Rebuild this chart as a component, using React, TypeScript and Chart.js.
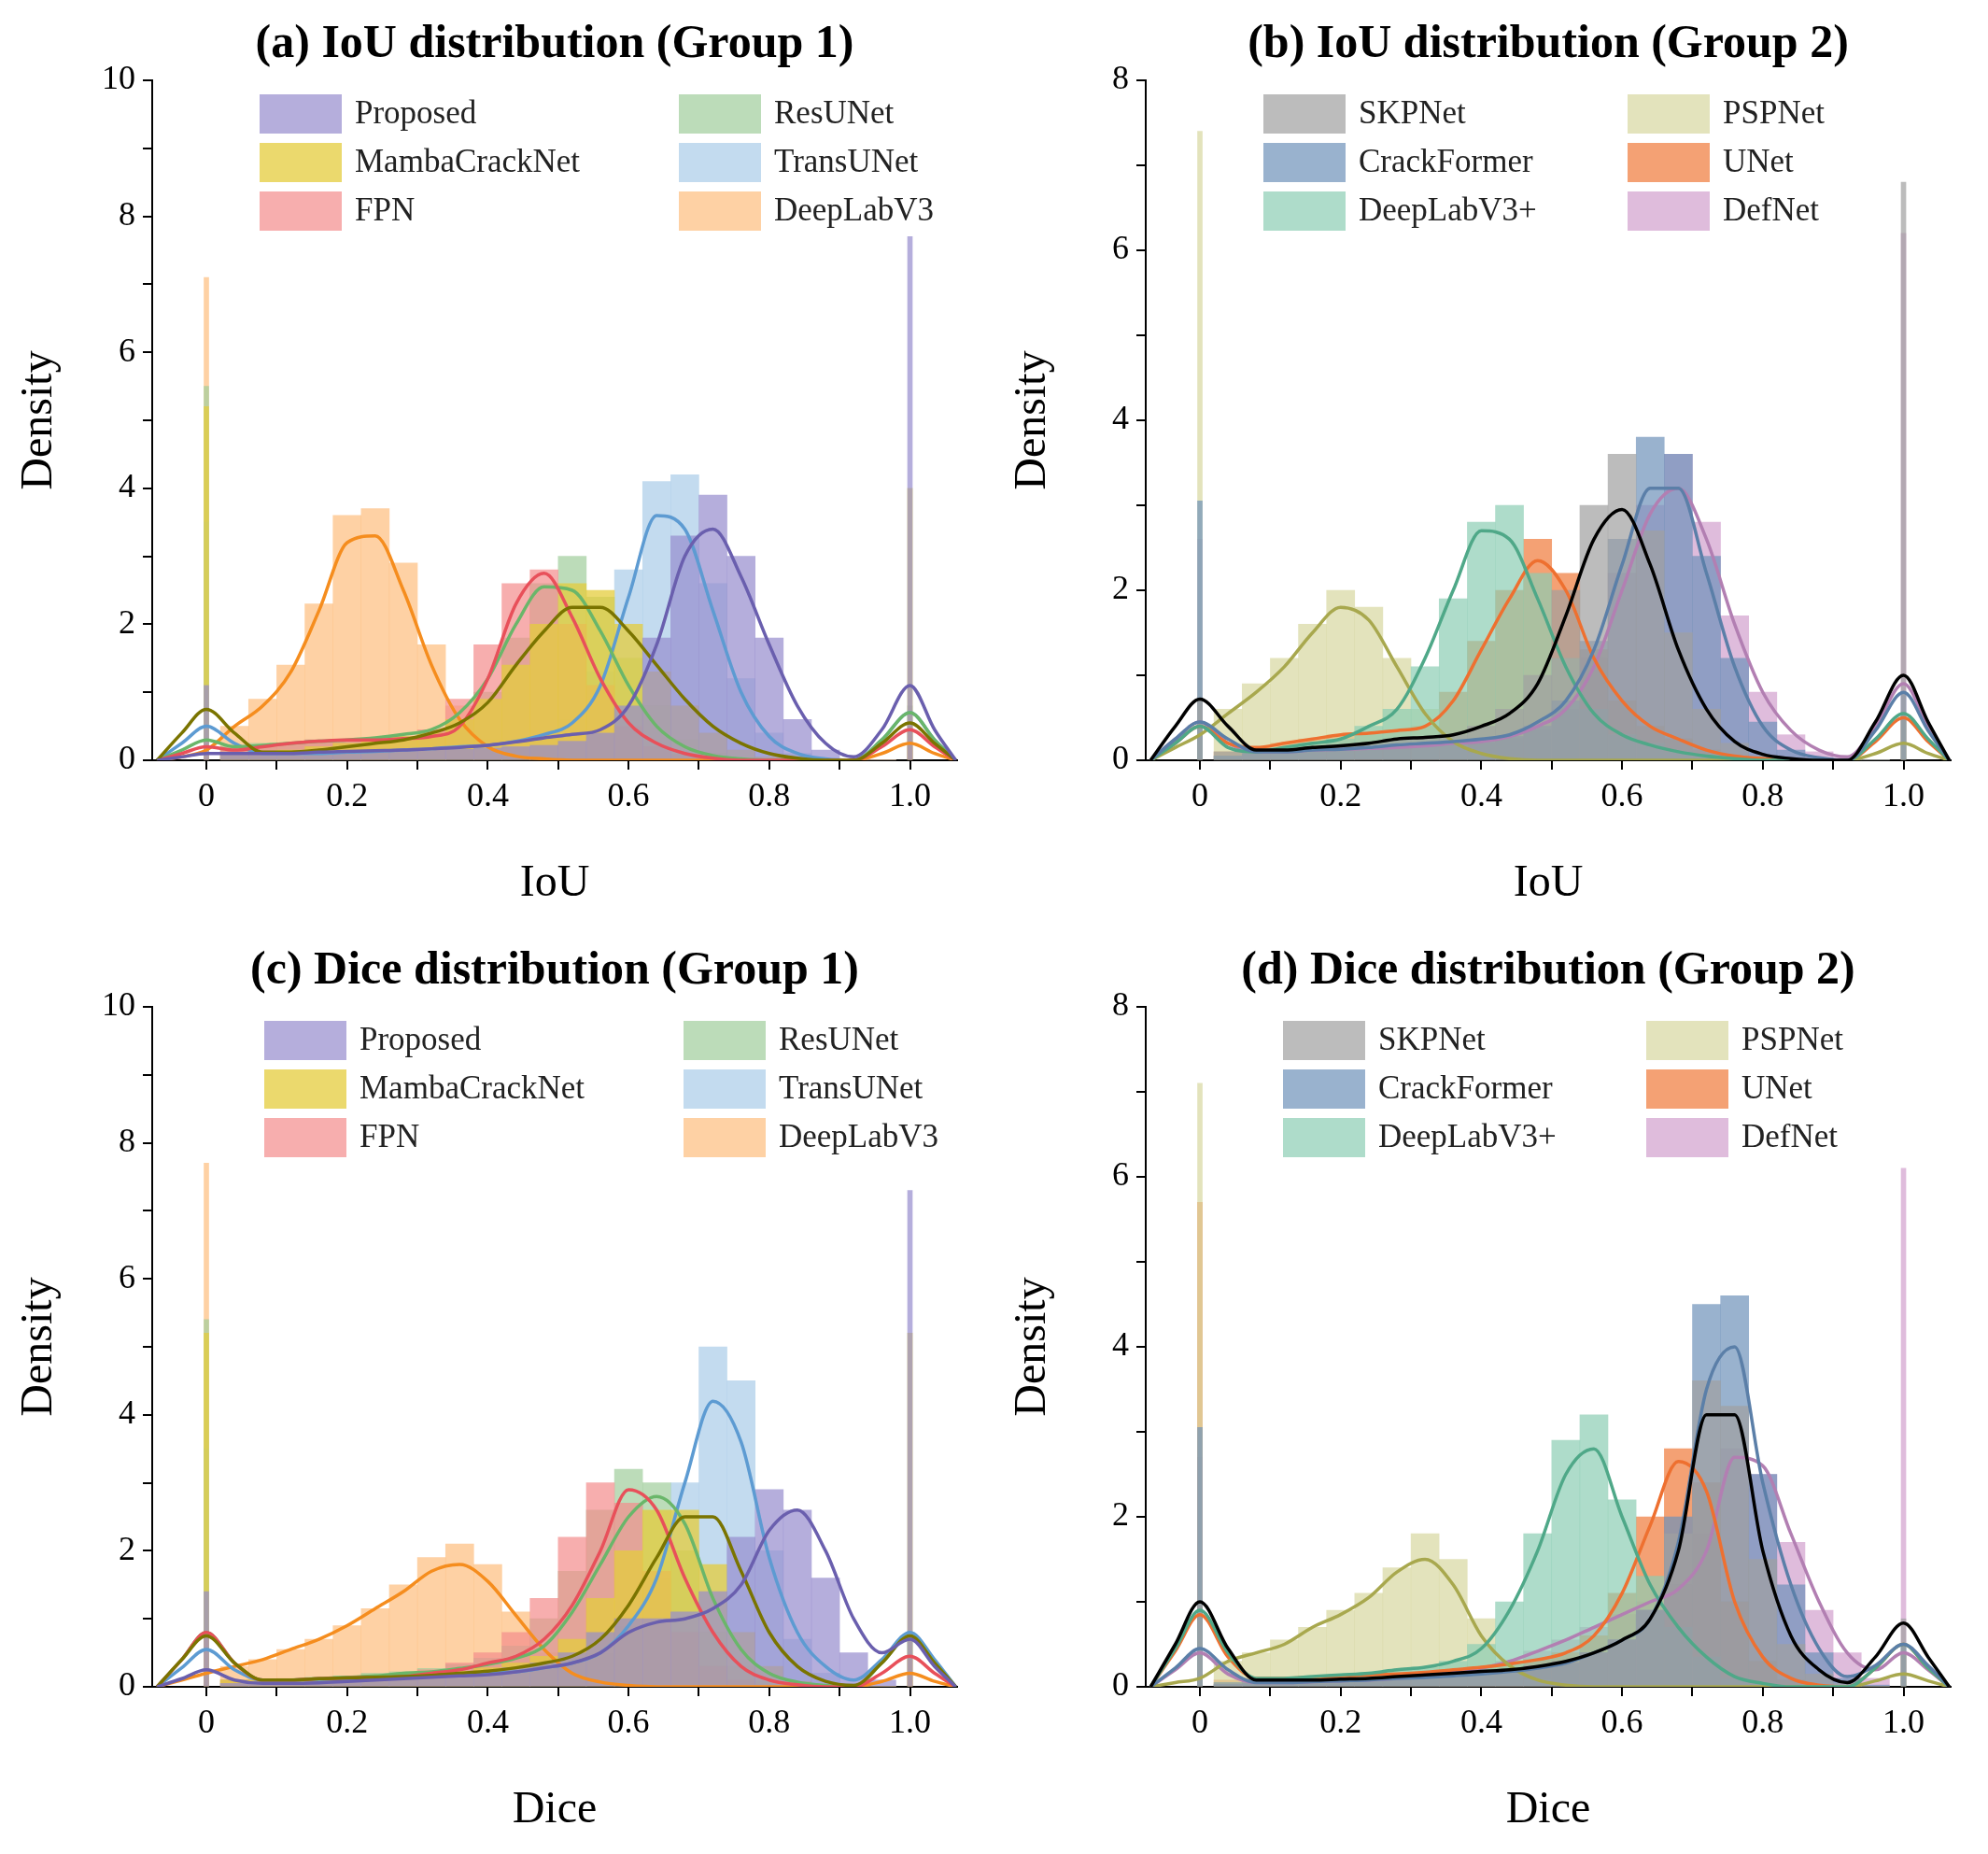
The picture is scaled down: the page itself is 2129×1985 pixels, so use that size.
import { useEffect, useRef } from "react";
import { Chart, registerables } from "chart.js";

Chart.register(...registerables);
Chart.defaults.font.family = "Liberation Serif";

// KDE sample positions and histogram bin centres
const kdeX = [-0.07, -0.035, 0, 0.04, 0.08, 0.12, 0.16, 0.2, 0.24, 0.28, 0.32, 0.36, 0.4, 0.44, 0.48, 0.52, 0.56, 0.6, 0.64, 0.68, 0.72, 0.76, 0.8, 0.84, 0.88, 0.92, 0.96, 1.0, 1.035, 1.065];
const histX = [0.04, 0.08, 0.12, 0.16, 0.2, 0.24, 0.28, 0.32, 0.36, 0.4, 0.44, 0.48, 0.52, 0.56, 0.6, 0.64, 0.68, 0.72, 0.76, 0.8, 0.84, 0.88, 0.92, 0.96];

const modelsG1 = ["Proposed", "MambaCrackNet", "FPN", "ResUNet", "TransUNet", "DeepLabV3"];
const barColorsG1 = ["rgba(150,140,205,0.7)", "rgba(228,204,60,0.75)", "rgba(244,140,140,0.7)", "rgba(160,205,155,0.7)", "rgba(170,204,232,0.7)", "rgba(253,190,125,0.7)"];
const lineColorsG1 = ["#6a5fae", "#7a7400", "#e8505a", "#6ab66a", "#5d9bd2", "#f58d1e"];

const modelsG2 = ["SKPNet", "CrackFormer", "DeepLabV3+", "PSPNet", "UNet", "DefNet"];
const barColorsG2 = ["rgba(160,160,160,0.7)", "rgba(110,145,185,0.7)", "rgba(140,205,180,0.7)", "rgba(215,215,160,0.7)", "rgba(240,130,70,0.75)", "rgba(210,160,205,0.7)"];
const lineColorsG2 = ["#000000", "#5b7fa8", "#4fa888", "#a8a84e", "#ee7030", "#b27fb2"];

// (a) IoU group 1
const kdeA = [
  [0, 0.05, 0.1, 0.1, 0.1, 0.1, 0.12, 0.13, 0.14, 0.15, 0.17, 0.19, 0.22, 0.27, 0.33, 0.38, 0.45, 0.8, 1.7, 3.0, 3.4, 2.7, 1.7, 0.8, 0.25, 0.05, 0.45, 1.1, 0.45, 0],
  [0, 0.4, 0.75, 0.4, 0.12, 0.12, 0.15, 0.2, 0.25, 0.3, 0.4, 0.55, 0.85, 1.4, 1.9, 2.25, 2.25, 1.9, 1.4, 0.9, 0.5, 0.25, 0.1, 0.03, 0, 0, 0.25, 0.55, 0.25, 0],
  [0, 0.1, 0.2, 0.15, 0.2, 0.25, 0.28, 0.3, 0.3, 0.32, 0.35, 0.5, 1.2, 2.3, 2.75, 2.1, 1.2, 0.55, 0.25, 0.1, 0.03, 0, 0, 0, 0, 0, 0.2, 0.45, 0.2, 0],
  [0, 0.15, 0.3, 0.2, 0.22, 0.25, 0.28, 0.3, 0.33, 0.38, 0.45, 0.7, 1.2, 2.0, 2.55, 2.5, 1.9, 1.1, 0.5, 0.2, 0.07, 0.02, 0, 0, 0, 0, 0.3, 0.7, 0.3, 0],
  [0, 0.25, 0.5, 0.25, 0.1, 0.1, 0.1, 0.12, 0.13, 0.15, 0.17, 0.2, 0.22, 0.28, 0.38, 0.55, 1.1, 2.4, 3.6, 3.4, 2.2, 1.0, 0.35, 0.1, 0.02, 0, 0.3, 0.7, 0.3, 0],
  [0, 0.05, 0.15, 0.5, 0.8, 1.3, 2.2, 3.2, 3.3, 2.5, 1.4, 0.6, 0.2, 0.06, 0.02, 0, 0, 0, 0, 0, 0, 0, 0, 0, 0, 0, 0.1, 0.25, 0.1, 0],
];
const histA = [
  [0.1, 0.1, 0.1, 0.1, 0.12, 0.12, 0.14, 0.15, 0.16, 0.18, 0.2, 0.22, 0.28, 0.4, 0.8, 1.8, 3.3, 3.9, 3.0, 1.8, 0.6, 0.15, 0.02, 0],
  [0.1, 0.1, 0.15, 0.2, 0.25, 0.3, 0.35, 0.4, 0.6, 0.9, 1.4, 2.0, 2.6, 2.5, 2.0, 1.3, 0.8, 0.4, 0.15, 0.05, 0.02, 0, 0, 0],
  [0.15, 0.2, 0.25, 0.3, 0.3, 0.3, 0.35, 0.45, 0.9, 1.7, 2.6, 2.8, 2.0, 1.1, 0.5, 0.2, 0.08, 0.03, 0, 0, 0, 0, 0, 0],
  [0.2, 0.25, 0.25, 0.3, 0.3, 0.3, 0.35, 0.4, 0.6, 1.0, 1.8, 2.6, 3.0, 2.4, 1.5, 0.8, 0.3, 0.1, 0.03, 0, 0, 0, 0, 0],
  [0.05, 0.08, 0.1, 0.1, 0.12, 0.12, 0.13, 0.15, 0.17, 0.2, 0.25, 0.35, 0.6, 1.3, 2.8, 4.1, 4.2, 2.6, 1.2, 0.4, 0.1, 0.02, 0, 0],
  [0.5, 0.9, 1.4, 2.3, 3.6, 3.7, 2.9, 1.7, 0.8, 0.3, 0.1, 0.03, 0, 0, 0, 0, 0, 0, 0, 0, 0, 0, 0, 0],
];
const spikesA = [[1.1, 7.7], [5.2, 4.0], [0.3, 0.5], [5.5, 0.8], [3.5, 0.7], [7.1, 0.2]];

// (b) IoU group 2
const kdeB = [
  [0, 0.4, 0.72, 0.4, 0.12, 0.12, 0.15, 0.17, 0.2, 0.25, 0.27, 0.3, 0.4, 0.55, 0.9, 1.7, 2.6, 2.95, 2.3, 1.3, 0.6, 0.22, 0.07, 0.02, 0, 0, 0.45, 1.0, 0.45, 0],
  [0, 0.25, 0.45, 0.25, 0.1, 0.1, 0.12, 0.13, 0.15, 0.18, 0.2, 0.22, 0.25, 0.3, 0.45, 0.7, 1.3, 2.3, 3.2, 3.2, 2.2, 1.1, 0.4, 0.12, 0.03, 0, 0.35, 0.8, 0.35, 0],
  [0, 0.2, 0.4, 0.15, 0.1, 0.15, 0.2, 0.25, 0.4, 0.6, 1.2, 2.0, 2.7, 2.6, 1.9, 1.1, 0.55, 0.3, 0.18, 0.1, 0.05, 0.02, 0, 0, 0, 0, 0.25, 0.55, 0.25, 0],
  [0, 0.15, 0.3, 0.55, 0.8, 1.1, 1.5, 1.8, 1.65, 1.1, 0.55, 0.22, 0.08, 0.02, 0, 0, 0, 0, 0, 0, 0, 0, 0, 0, 0, 0, 0.08, 0.2, 0.08, 0],
  [0, 0.2, 0.4, 0.2, 0.15, 0.2, 0.25, 0.3, 0.32, 0.35, 0.4, 0.7, 1.3, 1.9, 2.35, 2.0, 1.2, 0.7, 0.4, 0.25, 0.12, 0.05, 0.02, 0, 0, 0, 0.22, 0.5, 0.22, 0],
  [0, 0.25, 0.45, 0.2, 0.1, 0.1, 0.12, 0.13, 0.14, 0.15, 0.17, 0.2, 0.22, 0.28, 0.4, 0.6, 1.1, 2.0, 2.9, 3.2, 2.6, 1.6, 0.8, 0.35, 0.12, 0.04, 0.4, 0.9, 0.4, 0],
];
const histB = [
  [0.1, 0.1, 0.12, 0.15, 0.18, 0.2, 0.25, 0.25, 0.3, 0.4, 0.6, 1.0, 2.0, 3.0, 3.6, 2.7, 1.5, 0.6, 0.2, 0.05, 0.02, 0, 0, 0],
  [0.05, 0.08, 0.1, 0.1, 0.12, 0.13, 0.15, 0.18, 0.2, 0.22, 0.28, 0.4, 0.7, 1.4, 2.6, 3.8, 3.6, 2.4, 1.2, 0.45, 0.12, 0.03, 0, 0],
  [0.05, 0.1, 0.15, 0.2, 0.25, 0.4, 0.6, 1.1, 1.9, 2.8, 3.0, 2.2, 1.2, 0.6, 0.3, 0.2, 0.1, 0.05, 0.02, 0, 0, 0, 0, 0],
  [0.6, 0.9, 1.2, 1.6, 2.0, 1.8, 1.2, 0.6, 0.25, 0.08, 0.02, 0, 0, 0, 0, 0, 0, 0, 0, 0, 0, 0, 0, 0],
  [0.1, 0.15, 0.2, 0.25, 0.3, 0.3, 0.35, 0.4, 0.8, 1.4, 2.0, 2.6, 2.2, 1.3, 0.7, 0.4, 0.25, 0.12, 0.05, 0.02, 0, 0, 0, 0],
  [0.05, 0.08, 0.1, 0.1, 0.12, 0.13, 0.14, 0.15, 0.18, 0.2, 0.25, 0.35, 0.6, 1.2, 2.2, 3.0, 3.6, 2.8, 1.7, 0.8, 0.3, 0.1, 0.03, 0],
];
const spikesB = [[0.7, 6.8], [3.05, 0.8], [0.4, 0.5], [7.4, 0.2], [0.3, 0.5], [2.6, 6.2]];

// (c) Dice group 1
const kdeC = [
  [0, 0.12, 0.25, 0.1, 0.05, 0.05, 0.06, 0.08, 0.1, 0.12, 0.14, 0.16, 0.18, 0.22, 0.28, 0.35, 0.5, 0.8, 0.95, 1.0, 1.15, 1.5, 2.3, 2.6, 2.0, 1.0, 0.5, 0.7, 0.3, 0],
  [0, 0.4, 0.75, 0.35, 0.1, 0.1, 0.12, 0.13, 0.14, 0.15, 0.17, 0.2, 0.23, 0.28, 0.35, 0.45, 0.7, 1.2, 1.9, 2.5, 2.5, 1.7, 0.8, 0.3, 0.08, 0.02, 0.35, 0.75, 0.35, 0],
  [0, 0.4, 0.8, 0.35, 0.1, 0.1, 0.12, 0.13, 0.14, 0.15, 0.2, 0.25, 0.35, 0.45, 0.7, 1.2, 2.0, 2.9, 2.6, 1.6, 0.8, 0.3, 0.1, 0.03, 0, 0, 0.2, 0.45, 0.2, 0],
  [0, 0.4, 0.8, 0.35, 0.1, 0.1, 0.12, 0.14, 0.16, 0.2, 0.22, 0.27, 0.33, 0.42, 0.6, 1.1, 1.8, 2.5, 2.8, 2.4, 1.3, 0.55, 0.2, 0.07, 0.02, 0, 0.35, 0.75, 0.35, 0],
  [0, 0.28, 0.55, 0.25, 0.1, 0.1, 0.11, 0.12, 0.13, 0.15, 0.16, 0.18, 0.2, 0.22, 0.28, 0.35, 0.5, 0.9, 1.6, 3.0, 4.2, 3.6, 1.9, 0.8, 0.3, 0.1, 0.4, 0.8, 0.4, 0],
  [0, 0.1, 0.2, 0.3, 0.4, 0.55, 0.7, 0.9, 1.15, 1.4, 1.7, 1.8, 1.55, 1.05, 0.55, 0.2, 0.07, 0.02, 0, 0, 0, 0, 0, 0, 0, 0, 0.08, 0.2, 0.08, 0],
];
const histC = [
  [0.05, 0.05, 0.06, 0.08, 0.1, 0.12, 0.14, 0.16, 0.18, 0.22, 0.28, 0.35, 0.5, 0.8, 1.0, 1.0, 1.1, 1.4, 2.2, 2.9, 2.6, 1.6, 0.5, 0.1],
  [0.1, 0.1, 0.12, 0.13, 0.14, 0.15, 0.17, 0.2, 0.23, 0.28, 0.35, 0.45, 0.7, 1.3, 2.0, 2.6, 2.6, 1.8, 0.8, 0.3, 0.08, 0.02, 0, 0],
  [0.1, 0.1, 0.12, 0.13, 0.14, 0.15, 0.2, 0.25, 0.35, 0.5, 0.8, 1.3, 2.2, 3.0, 2.7, 1.7, 0.8, 0.3, 0.1, 0.03, 0, 0, 0, 0],
  [0.1, 0.1, 0.12, 0.14, 0.16, 0.2, 0.22, 0.27, 0.33, 0.42, 0.6, 1.0, 1.7, 2.6, 3.2, 3.0, 2.0, 0.8, 0.3, 0.08, 0.02, 0, 0, 0],
  [0.05, 0.08, 0.1, 0.11, 0.12, 0.13, 0.15, 0.16, 0.18, 0.2, 0.22, 0.28, 0.35, 0.5, 0.9, 1.6, 3.0, 5.0, 4.5, 2.0, 0.7, 0.2, 0.05, 0],
  [0.3, 0.4, 0.55, 0.7, 0.9, 1.15, 1.5, 1.9, 2.1, 1.8, 1.1, 0.5, 0.15, 0.05, 0.02, 0, 0, 0, 0, 0, 0, 0, 0, 0],
];
const spikesC = [[1.4, 7.3], [5.2, 5.2], [0.8, 0.4], [5.4, 0.8], [3.5, 0.8], [7.7, 0.2]];

// (d) Dice group 2
const kdeD = [
  [0, 0.5, 1.0, 0.45, 0.08, 0.08, 0.08, 0.09, 0.1, 0.12, 0.14, 0.16, 0.18, 0.2, 0.24, 0.3, 0.4, 0.55, 0.8, 1.6, 3.2, 3.2, 1.6, 0.6, 0.2, 0.05, 0.35, 0.75, 0.35, 0],
  [0, 0.22, 0.45, 0.2, 0.05, 0.05, 0.06, 0.07, 0.08, 0.1, 0.11, 0.13, 0.15, 0.18, 0.22, 0.28, 0.4, 0.55, 0.8, 1.7, 3.5, 4.0, 2.4, 1.2, 0.45, 0.12, 0.25, 0.5, 0.25, 0],
  [0, 0.45, 0.9, 0.4, 0.1, 0.1, 0.12, 0.14, 0.16, 0.2, 0.23, 0.3, 0.45, 0.9, 1.6, 2.5, 2.8, 2.0, 1.2, 0.7, 0.35, 0.12, 0.04, 0, 0, 0, 0.22, 0.5, 0.22, 0],
  [0, 0.05, 0.1, 0.3, 0.4, 0.5, 0.7, 0.85, 1.05, 1.35, 1.5, 1.2, 0.6, 0.25, 0.08, 0.02, 0, 0, 0, 0, 0, 0, 0, 0, 0, 0, 0.07, 0.15, 0.07, 0],
  [0, 0.42, 0.85, 0.35, 0.1, 0.1, 0.11, 0.12, 0.14, 0.15, 0.17, 0.2, 0.23, 0.27, 0.32, 0.4, 0.6, 1.1, 1.9, 2.65, 2.3, 1.0, 0.35, 0.1, 0.02, 0, 0.22, 0.5, 0.22, 0],
  [0, 0.2, 0.4, 0.15, 0.05, 0.05, 0.06, 0.07, 0.08, 0.1, 0.13, 0.17, 0.22, 0.3, 0.42, 0.55, 0.7, 0.85, 1.0, 1.15, 1.6, 2.7, 2.6, 1.8, 1.0, 0.4, 0.2, 0.4, 0.2, 0],
];
const histD = [
  [0.05, 0.06, 0.07, 0.08, 0.09, 0.1, 0.12, 0.14, 0.16, 0.18, 0.2, 0.25, 0.3, 0.4, 0.55, 0.9, 1.8, 3.6, 3.3, 1.5, 0.5, 0.15, 0.04, 0],
  [0.03, 0.04, 0.05, 0.06, 0.07, 0.08, 0.1, 0.11, 0.13, 0.15, 0.18, 0.22, 0.28, 0.4, 0.55, 0.9, 2.0, 4.5, 4.6, 2.5, 1.2, 0.4, 0.1, 0.02],
  [0.05, 0.08, 0.1, 0.12, 0.14, 0.16, 0.2, 0.23, 0.3, 0.5, 1.0, 1.8, 2.9, 3.2, 2.2, 1.3, 0.7, 0.35, 0.1, 0.03, 0, 0, 0, 0],
  [0.3, 0.4, 0.55, 0.7, 0.9, 1.1, 1.4, 1.8, 1.5, 0.8, 0.3, 0.08, 0.02, 0, 0, 0, 0, 0, 0, 0, 0, 0, 0, 0],
  [0.08, 0.1, 0.1, 0.11, 0.12, 0.14, 0.15, 0.17, 0.2, 0.23, 0.27, 0.32, 0.4, 0.6, 1.1, 2.0, 2.8, 2.4, 1.0, 0.3, 0.08, 0.02, 0, 0],
  [0.03, 0.04, 0.05, 0.06, 0.07, 0.08, 0.1, 0.13, 0.17, 0.22, 0.3, 0.42, 0.55, 0.7, 0.85, 1.0, 1.2, 1.8, 2.8, 2.5, 1.7, 0.9, 0.4, 0.1],
];
const spikesD = [[1.0, 0.8], [3.05, 0.5], [0.9, 0.5], [7.1, 0.15], [5.7, 0.4], [2.7, 6.1]];

const xTicks = [0, 0.1, 0.2, 0.3, 0.4, 0.5, 0.6, 0.7, 0.8, 0.9, 1.0];

const FONT = '"Liberation Serif"';

type PanelProps = {
  title: string;
  xTitle: string;
  yMax: number;
  models: string[];
  barColors: string[];
  lineColors: string[];
  kde: number[][];
  hist: number[][];
  spikes: number[][];
  legendX: [number, number];
};

function Panel(p: PanelProps) {
  const ref = useRef<HTMLCanvasElement>(null);

  useEffect(() => {
    if (!ref.current) return;
    const datasets: any[] = [];
    p.models.forEach((m, i) => {
      datasets.push({
        type: "line",
        label: m,
        data: kdeX.map((x, j) => ({ x, y: p.kde[i][j] })),
        borderColor: p.lineColors[i],
        borderWidth: 3.5,
        pointRadius: 0,
        cubicInterpolationMode: "monotone",
        order: 0,
      });
      datasets.push({
        type: "bar",
        label: m + " hist",
        data: histX.map((x, j) => ({ x, y: p.hist[i][j] })),
        backgroundColor: p.barColors[i],
        barThickness: 30,
        grouped: false,
        order: 1,
      });
      datasets.push({
        type: "bar",
        label: m + " spikes",
        data: [
          { x: 0, y: p.spikes[i][0] },
          { x: 1, y: p.spikes[i][1] },
        ],
        backgroundColor: p.barColors[i],
        barThickness: 5,
        grouped: false,
        order: 1,
      });
    });

    const yTicks: number[] = [];
    for (let v = 0; v <= p.yMax; v += 1) yTicks.push(v);

    const decor = {
      id: "decor",
      afterDraw(chart: any) {
        const { ctx, chartArea } = chart;
        ctx.save();
        ctx.fillStyle = "#000";
        ctx.textAlign = "center";
        ctx.textBaseline = "middle";
        ctx.font = `bold 50px ${FONT}`;
        ctx.fillText(p.title, (chartArea.left + chartArea.right) / 2, 48);
        ctx.font = `48px ${FONT}`;
        ctx.fillText(p.xTitle, (chartArea.left + chartArea.right) / 2, chartArea.bottom + 132);
        ctx.translate(42, (chartArea.top + chartArea.bottom) / 2);
        ctx.rotate(-Math.PI / 2);
        ctx.fillText("Density", 0, 0);
        ctx.restore();

        ctx.save();
        ctx.font = `35px ${FONT}`;
        ctx.textBaseline = "middle";
        ctx.textAlign = "left";
        p.models.forEach((m, i) => {
          const col = Math.floor(i / 3);
          const row = i % 3;
          const x = chartArea.left + p.legendX[col];
          const y = chartArea.top + 36 + row * 52;
          ctx.fillStyle = p.barColors[i];
          ctx.fillRect(x, y - 21, 88, 42);
          ctx.fillStyle = "#222";
          ctx.fillText(m, x + 102, y + 1);
        });
        ctx.restore();
      },
    };

    const tickFont = { family: "Liberation Serif", size: 36 };

    const chart = new Chart(ref.current, {
      type: "bar",
      data: { datasets },
      plugins: [decor],
      options: {
        responsive: false,
        animation: false,
        layout: { padding: { top: 86, right: 39, left: 0, bottom: 0 } },
        plugins: { legend: { display: false }, tooltip: { enabled: false } },
        scales: {
          x: {
            type: "linear",
            offset: false,
            min: -0.077,
            max: 1.067,
            afterBuildTicks: (s: any) => {
              s.ticks = xTicks.map((v) => ({ value: v }));
            },
            afterFit: (s: any) => {
              s.height = 178;
            },
            ticks: {
              color: "#000",
              font: tickFont,
              padding: 8,
              maxRotation: 0,
              autoSkip: false,
              callback: (v: any) => {
                const n = Math.round(Number(v) * 10);
                if (n % 2) return "";
                if (n === 0) return "0";
                return (n / 10).toFixed(1);
              },
            },
            grid: { display: true, offset: false, drawOnChartArea: false, drawTicks: true, tickLength: 10, color: "#000", lineWidth: 2 },
            border: { display: true, color: "#000", width: 2 },
          },
          y: {
            min: 0,
            max: p.yMax,
            afterBuildTicks: (s: any) => {
              s.ticks = yTicks.map((v) => ({ value: v }));
            },
            afterFit: (s: any) => {
              s.width = 163;
            },
            ticks: {
              color: "#000",
              font: tickFont,
              padding: 8,
              autoSkip: false,
              callback: (v: any) => (Number(v) % 2 ? "" : String(v)),
            },
            grid: { display: true, drawOnChartArea: false, drawTicks: true, tickLength: 10, color: "#000", lineWidth: 2 },
            border: { display: true, color: "#000", width: 2 },
          },
        },
      },
    });
    return () => chart.destroy();
  }, []);

  return <canvas ref={ref} width={1064} height={992} style={{ display: "block" }} />;
}

export default function App() {
  useEffect(() => {
    document.body.style.margin = "0";
    document.body.style.background = "#fff";
  }, []);
  return (
    <div style={{ display: "grid", gridTemplateColumns: "1064px 1064px", width: 2129, background: "#fff" }}>
      <Panel title="(a) IoU distribution (Group 1)" xTitle="IoU" yMax={10} models={modelsG1} barColors={barColorsG1} lineColors={lineColorsG1} kde={kdeA} hist={histA} spikes={spikesA} legendX={[115, 564]} />
      <Panel title="(b) IoU distribution (Group 2)" xTitle="IoU" yMax={8} models={modelsG2} barColors={barColorsG2} lineColors={lineColorsG2} kde={kdeB} hist={histB} spikes={spikesB} legendX={[126, 516]} />
      <Panel title="(c) Dice distribution (Group 1)" xTitle="Dice" yMax={10} models={modelsG1} barColors={barColorsG1} lineColors={lineColorsG1} kde={kdeC} hist={histC} spikes={spikesC} legendX={[120, 569]} />
      <Panel title="(d) Dice distribution (Group 2)" xTitle="Dice" yMax={8} models={modelsG2} barColors={barColorsG2} lineColors={lineColorsG2} kde={kdeD} hist={histD} spikes={spikesD} legendX={[147, 536]} />
    </div>
  );
}
